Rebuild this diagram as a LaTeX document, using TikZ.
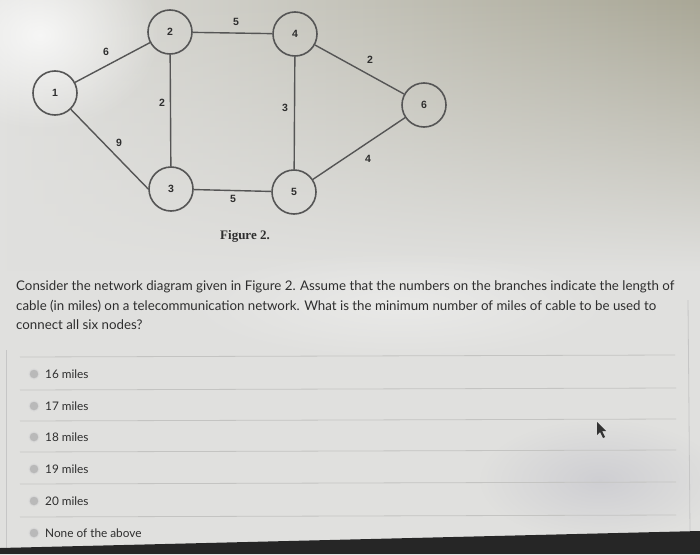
\documentclass[tikz,border=0pt]{standalone}
\usepackage{fontspec}
\setmainfont{Lato}
\newfontfamily\numfont{Liberation Sans}
\newfontfamily\figfont{Liberation Serif}
\usetikzlibrary{fadings}

\definecolor{edgegray}{HTML}{555555}
\definecolor{inkgray}{HTML}{2E2E2E}
\definecolor{rulegray}{HTML}{C4C4C2}
\definecolor{paper}{HTML}{E0E0DE}
\definecolor{shadeR}{HTML}{A9A796}
\definecolor{hazeblue}{HTML}{C3C3CB}

\tikzfading[name=fadedown, top color=transparent!0, bottom color=transparent!100]
\tikzfading[name=glare, inner color=transparent!0, outer color=transparent!100]

\begin{document}
\begin{tikzpicture}[x=1pt,y=-1pt]
\tikzstyle{vertex}=[draw=edgegray, line width=1.6pt, circle, minimum size=44pt, inner sep=0pt, text=inkgray, font=\numfont\bfseries\fontsize{10.5}{11}\selectfont]
\tikzstyle{edge}=[draw=edgegray, line width=1.4pt]
\tikzstyle{wt}=[inner sep=0pt, text=inkgray, font=\numfont\bfseries\fontsize{10.5}{11}\selectfont]
\tikzstyle{qline}=[anchor=base west, inner sep=0pt, text=inkgray, font=\fontsize{13.3}{16}\selectfont]
\tikzstyle{answer}=[anchor=base west, inner sep=0pt, text=inkgray, font=\fontsize{11.8}{14}\selectfont]
\tikzstyle{radio}=[circle, fill=gray!55, draw=gray!30, line width=1pt, minimum size=10pt, inner sep=0pt]
\tikzstyle{sep}=[draw=rulegray, line width=0.8pt]
\useasboundingbox (0,0) rectangle (700,554);
% background of the photo
\fill[paper] (0,0) rectangle (700,554);
\shade[left color=paper, right color=shadeR, path fading=fadedown] (0,0) rectangle (700,270);
\fill[white, opacity=0.75, path fading=glare] (-80,-60) rectangle (160,130);
\fill[white, opacity=0.3, path fading=glare] (180,250) rectangle (620,360);
\fill[hazeblue, opacity=0.6, path fading=glare] (480,420) rectangle (720,540);
\draw[gray!45, line width=0.8pt] (6,350) -- (6,548);
\draw[gray!45, line width=0.8pt] (688,300) -- (690,532);
\fill[black!85] (0,548) -- (700,531) -- (700,554) -- (0,554) -- cycle;
% nodes
\node[vertex] (n1) at (55,93) {1};
\node[vertex] (n2) at (170,32) {2};
\node[vertex] (n3) at (171,189) {3};
\node[vertex] (n4) at (295,34) {4};
\node[vertex] (n5) at (294,192) {5};
\node[vertex] (n6) at (424,105) {6};
% branches
\draw[edge] (n1) -- (n2);
\draw[edge] (n1) -- (n3.west);
\draw[edge] (n2) -- (n4);
\draw[edge] (n2) -- (n3);
\draw[edge] (n4) -- (n5);
\draw[edge] (n3) -- (n5);
\draw[edge] (n4) -- (n6);
\draw[edge] (n5) -- (n6);
% lengths
\node[wt] (w12) at (106,52) {6};
\node[wt] (w13) at (119,143) {9};
\node[wt] (w24) at (236,22) {5};
\node[wt] (w23) at (162,103) {2};
\node[wt] (w45) at (285,108) {3};
\node[wt] (w35) at (233,199) {5};
\node[wt] (w46) at (370,60) {2};
\node[wt] (w56) at (368,159) {4};
\node[text=inkgray, font=\figfont\bfseries\fontsize{13}{14}\selectfont] (cap) at (245,236) {Figure 2.};
% question
\node[qline] (q1) at (16,290) {Consider the network diagram given in Figure 2. Assume that the numbers on the branches indicate the length of};
\node[qline] (q2) at (16,310) {cable (in miles) on a telecommunication network. What is the minimum number of miles of cable to be used to};
\node[qline] (q3) at (16,329) {connect all six nodes?};
% answers
\draw[sep] (20,357) -- (675,355);
\foreach \y/\txt/\k in {374/16 miles/a, 406/17 miles/b, 437/18 miles/c, 469/19 miles/d, 501/20 miles/e, 533/None of the above/f}{
  \node[radio] (r\k) at (34,\y) {};
  \node[answer] (t\k) at (45,\y+4) {\txt};
}
\foreach \y in {390,421,452,484,517}
  \draw[sep] (20,\y) -- (676,\y-2);
% pointer
\fill[black!80] (597,422) -- (597,435) -- (600,432) -- (603,438) -- (605,437) -- (602,431) -- (606,431) -- cycle;
\end{tikzpicture}
\end{document}
